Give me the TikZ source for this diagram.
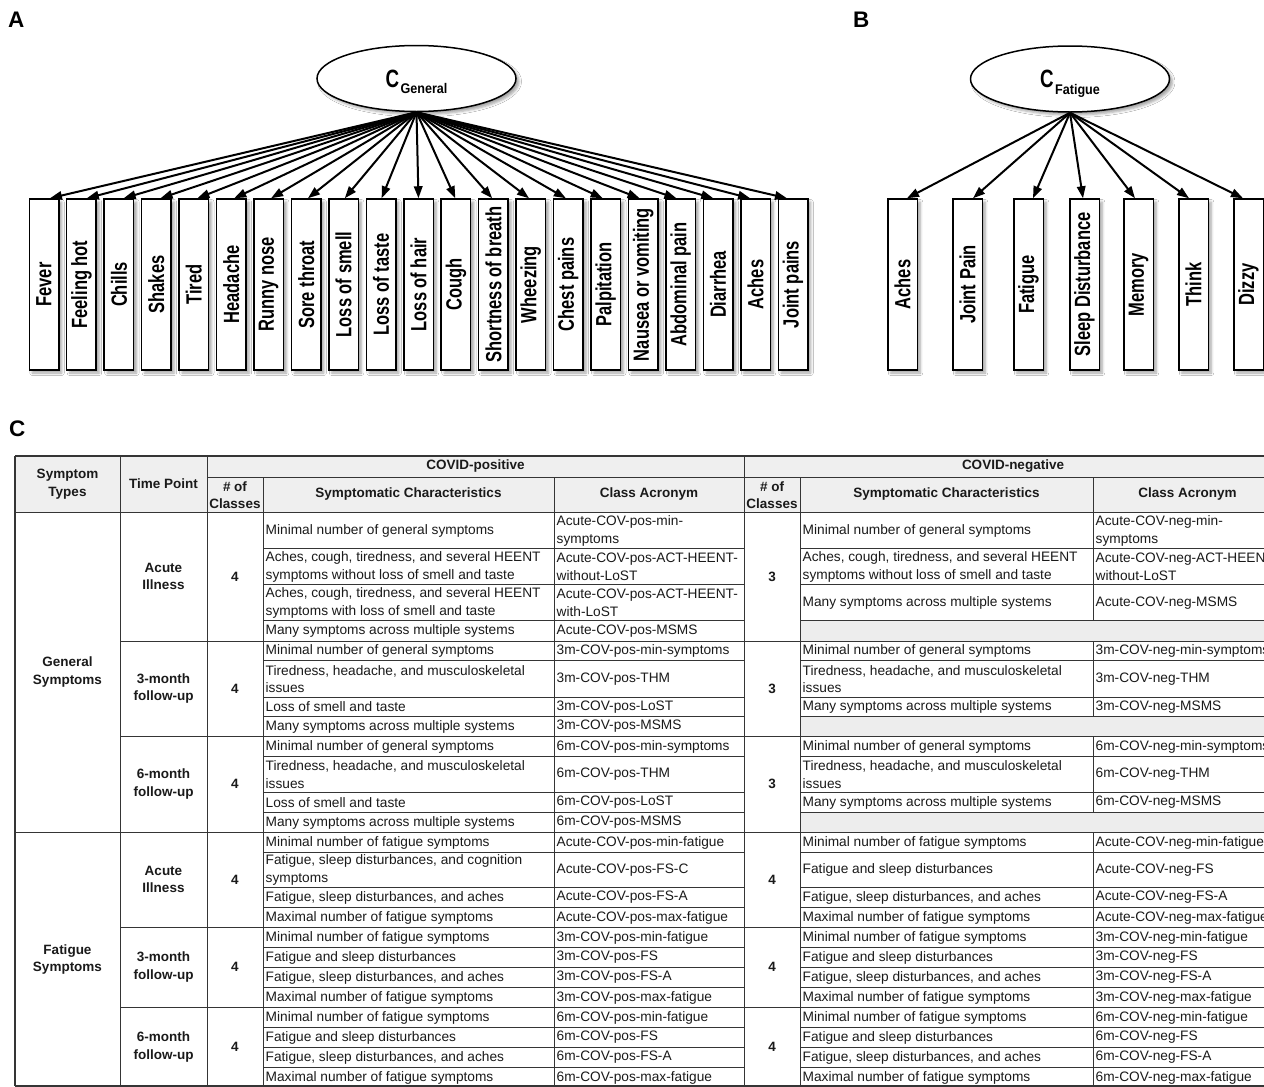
\documentclass[tikz,border=0pt]{standalone}
\usepackage{fontspec}
\usepackage{graphicx}
\setmainfont{Liberation Sans}
\newfontfamily\nbf{Liberation Sans}[FakeStretch=0.75]
\newfontfamily\sbf{Liberation Sans}[FakeStretch=0.9]
\usetikzlibrary{shapes.geometric,arrows.meta,shadows.blur,calc}
\definecolor{txt}{HTML}{1A1A1A}
\definecolor{rule}{HTML}{353535}
\definecolor{hdr}{HTML}{EFEFEF}
\definecolor{fillg}{HTML}{EDEDED}
\newcommand\rowp[4]{\node[bt] (#1c) at (265.5,#2) {#3}; \node[bt] (#1a) at (556.5,#2) {#4};}
\newcommand\rown[4]{\node[bt] (#1c) at (802.5,#2) {#3}; \node[bt] (#1a) at (1095.5,#2) {#4};}
\begin{document}
\begin{tikzpicture}[x=1pt,y=-1pt,
  shd/.style={blur shadow={shadow xshift=3pt,shadow yshift=-3pt,shadow blur radius=2.5pt,shadow opacity=35}},
  sym/.style={draw=black,line width=1.5pt,fill=white,minimum width=29.5pt,minimum height=171pt,inner sep=0pt,
    font={\nbf\bfseries\fontsize{22}{24}\selectfont},shd},
  lat/.style={ellipse,draw=black,line width=1.5pt,fill=white,minimum width=199pt,minimum height=66pt,inner sep=0pt,shd},
  arr/.style={line width=2pt,-{Triangle[length=12pt,width=8.5pt]}},
  rl/.style={draw=rule,line width=1pt},
  ol/.style={draw=rule,line width=1.4pt},
  plet/.style={font={\bfseries\fontsize{22.5}{24}\selectfont},inner sep=0pt,anchor=base west},
  hd/.style={font={\bfseries\fontsize{13.5}{17.5}\selectfont},align=center,inner sep=0pt,text=txt},
  bt/.style={font={\fontsize{13.7}{17.5}\selectfont},align=left,inner sep=0pt,anchor=west,text=txt}]
\useasboundingbox (0,0) rectangle (1264,1087);
\clip (0,0) rectangle (1264,1087);
\fill[white] (0,0) rectangle (1264,1087);

% ---------- Panel A ----------
\node[plet] (lA) at (8,27) {A};
\node[lat] (eG) at (416.5,78.5) {{\nbf\bfseries\fontsize{25}{26}\selectfont C}\kern1.5pt\smash{\raisebox{-6.5pt}{\sbf\bfseries\fontsize{14}{16}\selectfont General}}};
\foreach \lab [count=\i from 0] in {Fever,Feeling hot,Chills,Shakes,Tired,Headache,Runny nose,Sore throat,Loss of smell,Loss of taste,Loss of hair,Cough,Shortness of breath,Wheezing,Chest pains,Palpitation,Nausea or vomiting,Abdominal pain,Diarrhea,Aches,Joint pains}{
  \pgfmathsetmacro\cx{44+37.45*\i}
  \pgfmathsetmacro\off{(416.5-\cx)*0.016}
  \node[sym] (a\i) at (\cx,284.5) {\rotatebox{90}{\lab}};
  \draw[arr] (eG.south) -- ($(a\i.north)+(\off,0)$);
}

% ---------- Panel B ----------
\node[plet] (lB) at (853,27) {B};
\node[lat] (eF) at (1070,79) {{\nbf\bfseries\fontsize{25}{26}\selectfont C}\kern1.5pt\smash{\raisebox{-6.5pt}{\sbf\bfseries\fontsize{14}{16}\selectfont Fatigue}}};
\foreach \cx/\off/\lab [count=\i] in {902.5/4.5/Aches,967.5/5.5/Joint Pain,1028.5/4.5/Fatigue,1084.5/-1.5/Sleep Disturbance,1138.5/-3.5/Memory,1193.5/-4.5/Think,1248.5/-5.5/Dizzy}{
  \node[sym] (b\i) at (\cx,284.5) {\rotatebox{90}{\lab}};
  \draw[arr] (eF.south) -- ($(b\i.north)+(\off,0)$);
}

% ---------- Panel C ----------
\node[plet] (lC) at (9,436) {C};
\fill[hdr] (15,456) rectangle (1282,512);
\foreach \y in {620,716,812} \fill[fillg] (800,\y) rectangle (1282,\y+20.5);
% horizontal rules
\foreach \y in {548,584,620,660,697,716,756,792,812,852,887,907,947,967,987,1027,1047,1067}{
  \draw[rl] (263,\y) -- (744,\y);
  \draw[rl] (800,\y) -- (1282,\y);
}
\foreach \y in {641,736,927,1007} \draw[rl] (120,\y) -- (1282,\y);
\draw[rl] (207,477) -- (1282,477);
\draw[rl] (15,512) -- (1282,512);
\draw[rl] (15,832) -- (1282,832);
\draw[ol] (15,456) -- (1282,456);
\draw[ol] (15,1086) -- (1282,1086);
% vertical rules
\draw[ol] (15,456) -- (15,1086);
\foreach \x in {120,207,744} \draw[rl] (\x,456) -- (\x,1086);
\foreach \x in {263,554,800} \draw[rl] (\x,477) -- (\x,1086);
\draw[rl] (1093,477) -- (1093,620) (1093,641) -- (1093,716) (1093,736) -- (1093,812) (1093,832) -- (1093,1086);

% header
\node[hd] (hST) at (67.5,484) {Symptom\\Types};
\node[hd] (hTP) at (163.5,484) {Time Point};
\node[hd] (hPOS) at (475.5,466.5) {COVID-positive};
\node[hd] (hNEG) at (1013,466.5) {COVID-negative};
\node[hd] (hPn) at (235,495) {\# of\\Classes};
\node[hd] (hPc) at (408.5,494.5) {Symptomatic Characteristics};
\node[hd] (hPa) at (649,494.5) {Class Acronym};
\node[hd] (hNn) at (772,495) {\# of\\Classes};
\node[hd] (hNc) at (946.5,494.5) {Symptomatic Characteristics};
\node[hd] (hNa) at (1187.5,494.5) {Class Acronym};

% left columns
\node[hd] (sG) at (67.5,672) {General\\Symptoms};
\node[hd] (sF) at (67.5,959.5) {Fatigue\\Symptoms};
\node[hd] (t1) at (163.5,576.5) {Acute\\Illness};
\node[hd] (t2) at (163.5,688.5) {3-month\\follow-up};
\node[hd] (t3) at (163.5,784) {6-month\\follow-up};
\node[hd] (t4) at (163.5,879.5) {Acute\\Illness};
\node[hd] (t5) at (163.5,967) {3-month\\follow-up};
\node[hd] (t6) at (163.5,1047) {6-month\\follow-up};
\node[hd] (n1) at (235,576.5) {4};
\node[hd] (n2) at (235,688.5) {4};
\node[hd] (n3) at (235,784) {4};
\node[hd] (n4) at (235,879.5) {4};
\node[hd] (n5) at (235,967) {4};
\node[hd] (n6) at (235,1047) {4};
\node[hd] (m1) at (772,576.5) {3};
\node[hd] (m2) at (772,688.5) {3};
\node[hd] (m3) at (772,784) {3};
\node[hd] (m4) at (772,879.5) {4};
\node[hd] (m5) at (772,967) {4};
\node[hd] (m6) at (772,1047) {4};

% body: general acute
\rowp{pa1}{531}{Minimal number of general symptoms}{Acute-COV-pos-min-\\symptoms}
\rowp{pa2}{567}{Aches, cough, tiredness, and several HEENT\\symptoms without loss of smell and taste}{Acute-COV-pos-ACT-HEENT-\\without-LoST}
\rowp{pa3}{603}{Aches, cough, tiredness, and several HEENT\\symptoms with loss of smell and taste}{Acute-COV-pos-ACT-HEENT-\\with-LoST}
\rowp{pa4}{631}{Many symptoms across multiple systems}{Acute-COV-pos-MSMS}
\rown{na1}{531}{Minimal number of general symptoms}{Acute-COV-neg-min-\\symptoms}
\rown{na2}{567}{Aches, cough, tiredness, and several HEENT\\symptoms without loss of smell and taste}{Acute-COV-neg-ACT-HEENT-\\without-LoST}
\rown{na3}{603}{Many symptoms across multiple systems}{Acute-COV-neg-MSMS}
% general 3m
\rowp{pb1}{651}{Minimal number of general symptoms}{3m-COV-pos-min-symptoms}
\rowp{pb2}{679}{Tiredness, headache, and musculoskeletal\\issues}{3m-COV-pos-THM}
\rowp{pb3}{707}{Loss of smell and taste}{3m-COV-pos-LoST}
\rowp{pb4}{726.5}{Many symptoms across multiple systems}{3m-COV-pos-MSMS}
\rown{nb1}{651}{Minimal number of general symptoms}{3m-COV-neg-min-symptoms}
\rown{nb2}{679}{Tiredness, headache, and musculoskeletal\\issues}{3m-COV-neg-THM}
\rown{nb3}{707}{Many symptoms across multiple systems}{3m-COV-neg-MSMS}
% general 6m
\rowp{pc1}{746.5}{Minimal number of general symptoms}{6m-COV-pos-min-symptoms}
\rowp{pc2}{774.5}{Tiredness, headache, and musculoskeletal\\issues}{6m-COV-pos-THM}
\rowp{pc3}{802.5}{Loss of smell and taste}{6m-COV-pos-LoST}
\rowp{pc4}{822.5}{Many symptoms across multiple systems}{6m-COV-pos-MSMS}
\rown{nc1}{746.5}{Minimal number of general symptoms}{6m-COV-neg-min-symptoms}
\rown{nc2}{774.5}{Tiredness, headache, and musculoskeletal\\issues}{6m-COV-neg-THM}
\rown{nc3}{802.5}{Many symptoms across multiple systems}{6m-COV-neg-MSMS}
% fatigue acute
\rowp{pd1}{842.5}{Minimal number of fatigue symptoms}{Acute-COV-pos-min-fatigue}
\rowp{pd2}{870}{Fatigue, sleep disturbances, and cognition\\symptoms}{Acute-COV-pos-FS-C}
\rowp{pd3}{897.5}{Fatigue, sleep disturbances, and aches}{Acute-COV-pos-FS-A}
\rowp{pd4}{917.5}{Maximal number of fatigue symptoms}{Acute-COV-pos-max-fatigue}
\rown{nd1}{842.5}{Minimal number of fatigue symptoms}{Acute-COV-neg-min-fatigue}
\rown{nd2}{870}{Fatigue and sleep disturbances}{Acute-COV-neg-FS}
\rown{nd3}{897.5}{Fatigue, sleep disturbances, and aches}{Acute-COV-neg-FS-A}
\rown{nd4}{917.5}{Maximal number of fatigue symptoms}{Acute-COV-neg-max-fatigue}
% fatigue 3m
\rowp{pe1}{937.5}{Minimal number of fatigue symptoms}{3m-COV-pos-min-fatigue}
\rowp{pe2}{957.5}{Fatigue and sleep disturbances}{3m-COV-pos-FS}
\rowp{pe3}{977.5}{Fatigue, sleep disturbances, and aches}{3m-COV-pos-FS-A}
\rowp{pe4}{997.5}{Maximal number of fatigue symptoms}{3m-COV-pos-max-fatigue}
\rown{ne1}{937.5}{Minimal number of fatigue symptoms}{3m-COV-neg-min-fatigue}
\rown{ne2}{957.5}{Fatigue and sleep disturbances}{3m-COV-neg-FS}
\rown{ne3}{977.5}{Fatigue, sleep disturbances, and aches}{3m-COV-neg-FS-A}
\rown{ne4}{997.5}{Maximal number of fatigue symptoms}{3m-COV-neg-max-fatigue}
% fatigue 6m
\rowp{pf1}{1017.5}{Minimal number of fatigue symptoms}{6m-COV-pos-min-fatigue}
\rowp{pf2}{1037.5}{Fatigue and sleep disturbances}{6m-COV-pos-FS}
\rowp{pf3}{1057.5}{Fatigue, sleep disturbances, and aches}{6m-COV-pos-FS-A}
\rowp{pf4}{1077.5}{Maximal number of fatigue symptoms}{6m-COV-pos-max-fatigue}
\rown{nf1}{1017.5}{Minimal number of fatigue symptoms}{6m-COV-neg-min-fatigue}
\rown{nf2}{1037.5}{Fatigue and sleep disturbances}{6m-COV-neg-FS}
\rown{nf3}{1057.5}{Fatigue, sleep disturbances, and aches}{6m-COV-neg-FS-A}
\rown{nf4}{1077.5}{Maximal number of fatigue symptoms}{6m-COV-neg-max-fatigue}
\end{tikzpicture}
\end{document}
